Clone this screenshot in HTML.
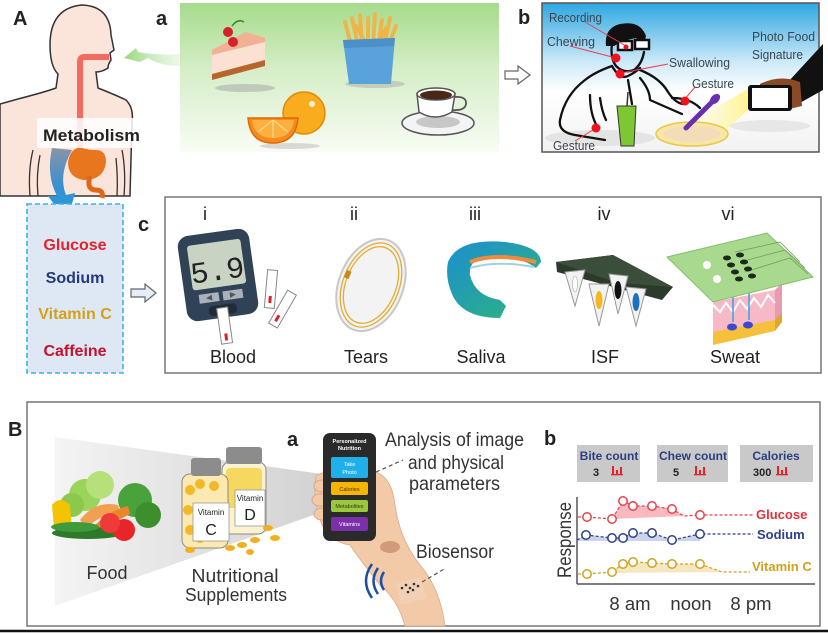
<!DOCTYPE html>
<html><head><meta charset="utf-8"><style>
html,body{margin:0;padding:0;background:#fff;}
svg{display:block;font-family:"Liberation Sans",sans-serif;}
</style></head><body>
<svg width="828" height="633" viewBox="0 0 828 633" xmlns="http://www.w3.org/2000/svg">
<defs>
<linearGradient id="gFood" x1="0" y1="0" x2="0" y2="1"><stop offset="0" stop-color="#a6db8c"/><stop offset="0.45" stop-color="#d6eec8"/><stop offset="1" stop-color="#f8fcf4"/></linearGradient>
<linearGradient id="gSky" x1="0" y1="0" x2="0" y2="1"><stop offset="0" stop-color="#2ea7e2"/><stop offset="0.4" stop-color="#cfeaf8"/><stop offset="0.6" stop-color="#ffffff"/><stop offset="1" stop-color="#f2f2f2"/></linearGradient>
<linearGradient id="gBlueArrow" x1="0" y1="0" x2="0" y2="1"><stop offset="0" stop-color="#8a94a8"/><stop offset="0.5" stop-color="#3b8fd0"/><stop offset="1" stop-color="#1aa0e2"/></linearGradient>
<linearGradient id="gGreenArrow" x1="1" y1="0" x2="0" y2="0"><stop offset="0" stop-color="#c9ebbd" stop-opacity="0.3"/><stop offset="1" stop-color="#98d67e"/></linearGradient>
<linearGradient id="gCone" x1="0" y1="0" x2="1" y2="0"><stop offset="0" stop-color="#f4f4f4"/><stop offset="1" stop-color="#d2d2d2"/></linearGradient>
<linearGradient id="gGuard" x1="0" y1="0" x2="1" y2="1"><stop offset="0" stop-color="#1b8fd0"/><stop offset="1" stop-color="#2fb57a"/></linearGradient>
<linearGradient id="gBeam" x1="1" y1="0" x2="0" y2="0"><stop offset="0" stop-color="#fff38a"/><stop offset="1" stop-color="#fffbd8" stop-opacity="0.3"/></linearGradient>
</defs>

<!-- ============ A : human ============ -->
<path d="M0 104 L18 99 Q45 92 56 88 L58 74 Q50 66 50 45 Q50 8 82 5 Q110 6 111 35 L114 50 L110 53 L111 60 Q108 64 108 68 Q102 72 96 72 L98 88 Q118 96 126 100 Q134 108 132 122 L130 196 L0 196 Z" fill="#fbe4da" stroke="#333" stroke-width="1.5"/>
<path d="M33 150 Q28 170 30 196 M40 155 Q36 175 38 196 M122 150 Q126 170 124 196 M116 158 Q118 178 117 196" fill="none" stroke="#333" stroke-width="1.3"/>
<path d="M109 57 L84 57 Q80 57 80 62 L80 150" fill="none" stroke="#f26b5e" stroke-width="6"/>
<path d="M78 148 Q70 150 68 162 Q68 178 84 180 Q104 180 106 162 Q106 150 96 150 Q88 150 82 148 Z" fill="#e8761e"/>
<path d="M90 176 Q86 190 96 190 Q104 190 102 198" fill="none" stroke="#e0661a" stroke-width="5"/>
<rect x="37" y="118" width="105" height="30" fill="#fff" fill-opacity="0.85"/>
<text x="43" y="141" font-size="16.5" font-weight="bold" fill="#222" textLength="97" lengthAdjust="spacingAndGlyphs">Metabolism</text>
<path d="M52 148 Q46 175 57 196 L48 196 L67 222 L75 193 L66 195 Q58 175 72 150 Z" fill="url(#gBlueArrow)"/>
<text x="13" y="25" font-size="20" font-weight="bold" fill="#222">A</text>

<!-- dashed metabolite box -->
<rect x="27" y="204" width="96" height="169" fill="#dde8f4" stroke="#3bb3e4" stroke-width="1.6" stroke-dasharray="5,3"/>
<text x="75" y="250" font-size="16" font-weight="bold" fill="#e8202a" text-anchor="middle">Glucose</text>
<text x="75" y="283" font-size="16" font-weight="bold" fill="#23377a" text-anchor="middle">Sodium</text>
<text x="75" y="319" font-size="16" font-weight="bold" fill="#d4a017" text-anchor="middle">Vitamin C</text>
<text x="75" y="356" font-size="16" font-weight="bold" fill="#c8102e" text-anchor="middle">Caffeine</text>
<polygon points="131,289 145,289 145,284 156,293 145,302 145,297 131,297" fill="#e4eef8" stroke="#666" stroke-width="1.2"/>
<text x="138" y="231" font-size="20" font-weight="bold" fill="#222">c</text>

<!-- ============ a : food ============ -->
<text x="156" y="25" font-size="20" font-weight="bold" fill="#222">a</text>
<rect x="180" y="3" width="319" height="149" fill="url(#gFood)"/>
<path d="M182 66 Q160 66 148 58 L140 62 L124 58 L136 48 L138 52 Q158 56 182 54 Z" fill="url(#gGreenArrow)"/>
<!-- cake -->
<ellipse cx="245" cy="88" rx="30" ry="4" fill="#9a9a9a" opacity="0.45"/>
<polygon points="212,50 246,32 265,38 265,42 212,55" fill="#f2b095"/>
<polygon points="212,55 265,42 265,60 212,74" fill="#fbe1d2"/>
<polygon points="212,74 265,60 265,66 212,80" fill="#b8652c"/>
<path d="M232 26 Q238 18 244 22" fill="none" stroke="#3a8a2a" stroke-width="1.5"/>
<circle cx="228" cy="32" r="5" fill="#d6202a"/><circle cx="233" cy="42" r="5" fill="#d6202a"/>
<!-- fries -->
<ellipse cx="375" cy="84" rx="30" ry="4" fill="#9a9a9a" opacity="0.4"/>
<g stroke="#f0b54a" stroke-width="4" stroke-linecap="round">
<line x1="345" y1="22" x2="352" y2="48"/><line x1="352" y1="18" x2="358" y2="46"/><line x1="360" y1="15" x2="362" y2="46"/><line x1="368" y1="18" x2="368" y2="46"/><line x1="375" y1="14" x2="373" y2="46"/><line x1="382" y1="20" x2="378" y2="46"/><line x1="390" y1="18" x2="384" y2="46"/><line x1="396" y1="26" x2="388" y2="46"/><line x1="356" y1="26" x2="366" y2="44"/><line x1="386" y1="28" x2="378" y2="44"/>
</g>
<polygon points="343,40 395,38 391,84 349,84" fill="#5aa3da"/>
<polygon points="343,40 395,38 394,46 344,48" fill="#4b90c8"/>
<!-- orange -->
<ellipse cx="290" cy="146" rx="30" ry="3" fill="#aaa" opacity="0.4"/>
<circle cx="304" cy="113" r="21" fill="#f9ad1e" stroke="#e28a00" stroke-width="1.5"/>
<circle cx="312" cy="104" r="3" fill="#fff" opacity="0.8"/>
<path d="M248 118 L298 118 Q296 143 273 143 Q250 143 248 118 Z" fill="#f58a1e" stroke="#e06a00" stroke-width="1.5"/>
<path d="M252 120 L294 120 Q292 138 273 138 Q254 138 252 120 Z" fill="#fbb040"/>
<g stroke="#fde0a0" stroke-width="1"><line x1="273" y1="120" x2="273" y2="138"/><line x1="273" y1="120" x2="258" y2="132"/><line x1="273" y1="120" x2="288" y2="132"/></g>
<!-- coffee -->
<ellipse cx="438" cy="123" rx="36" ry="12" fill="#f4f4f4" stroke="#555" stroke-width="1.5"/>
<ellipse cx="438" cy="122" rx="22" ry="6" fill="#999" opacity="0.5"/>
<path d="M417 94 L419 112 Q435 122 452 112 L455 94 Z" fill="#fff" stroke="#555" stroke-width="1.5"/>
<path d="M454 97 Q467 96 466 104 Q465 111 452 110" fill="none" stroke="#555" stroke-width="1.8"/>
<ellipse cx="436" cy="94" rx="19" ry="6" fill="#fff" stroke="#555" stroke-width="1.5"/>
<ellipse cx="436" cy="95" rx="16" ry="4.5" fill="#4a2716"/>

<polygon points="505,71 518,71 518,66 530,75 518,84 518,79 505,79" fill="#fff" stroke="#666" stroke-width="1.2"/>

<!-- ============ b : person ============ -->
<text x="518" y="24" font-size="20" font-weight="bold" fill="#222">b</text>
<rect x="542" y="3" width="277" height="149" fill="url(#gSky)" stroke="#555" stroke-width="1.5"/>
<ellipse cx="600" cy="138" rx="55" ry="8" fill="#ddd" opacity="0.7"/>
<ellipse cx="770" cy="126" rx="40" ry="6" fill="#e0e0e0" opacity="0.7"/>
<!-- beam -->
<polygon points="750,88 750,108 715,140 690,122" fill="url(#gBeam)"/>
<!-- plate -->
<ellipse cx="692" cy="134" rx="36" ry="12" fill="#f7e6a8" stroke="#e8c84a" stroke-width="1.5"/>
<ellipse cx="692" cy="134" rx="28" ry="8" fill="#f3dcb8"/>
<!-- body outline -->
<g fill="none" stroke="#111" stroke-width="2.3" stroke-linecap="round" stroke-linejoin="round">
<path d="M612 66 Q595 72 585 80 Q565 95 560 120 Q558 132 575 135 L605 140"/>
<path d="M640 70 Q660 78 668 92 Q676 104 684 104"/>
<path d="M612 66 Q620 80 628 76 Q636 72 640 68"/>
<path d="M590 95 Q590 115 598 128 M600 98 Q602 112 606 120 M628 80 L632 104 M640 78 Q650 90 650 100 Q668 108 682 114"/>
<path d="M612 44 Q610 58 616 66 Q624 74 634 70 Q642 64 644 52"/>
<path d="M672 98 Q690 98 700 108"/>
</g>
<path d="M606 46 Q604 28 620 24 Q640 20 646 36 L644 44 L636 38 Q624 40 614 46 Z" fill="#111"/>
<rect x="618" y="41" width="14" height="9" fill="#fff" stroke="#111" stroke-width="2.5"/>
<rect x="635" y="40" width="14" height="9" fill="#fff" stroke="#111" stroke-width="2.5"/>
<!-- cup -->
<polygon points="617,106 636,106 634,146 621,146" fill="#7dc832" stroke="#333" stroke-width="1"/>
<line x1="628" y1="92" x2="627" y2="106" stroke="#333" stroke-width="1.5"/>
<!-- spoon -->
<path d="M686 128 L712 102" stroke="#6a2fb0" stroke-width="5" stroke-linecap="round"/>
<ellipse cx="715" cy="99" rx="6" ry="4" fill="#6a2fb0" transform="rotate(-45 715 99)"/>
<!-- phone and hand -->
<polygon points="788,82 823,44 823,90 798,104" fill="#111"/>
<path d="M760 84 Q780 74 800 82 L802 106 Q780 112 758 110 Z" fill="#8a4a28"/>
<rect x="748" y="85" width="44" height="26" rx="3" fill="#111"/>
<rect x="752" y="88" width="36" height="20" fill="#fff"/>
<!-- red connectors -->
<g stroke="#e84050" stroke-width="1" fill="none">
<line x1="585" y1="22" x2="626" y2="46"/><line x1="570" y1="46" x2="616" y2="58"/><line x1="668" y1="64" x2="621" y2="73"/><line x1="695" y1="87" x2="684" y2="100"/><line x1="575" y1="141" x2="596" y2="128"/>
</g>
<g fill="#f0101e"><circle cx="626" cy="47" r="2.5"/><circle cx="616" cy="58" r="4.5"/><circle cx="620" cy="74" r="4.5"/><circle cx="685" cy="101" r="4.5"/><circle cx="596" cy="128" r="4.5"/></g>
<g font-size="12.5" fill="#3a4550">
<text x="549" y="22" textLength="53" lengthAdjust="spacingAndGlyphs">Recording</text>
<text x="547" y="46" textLength="48" lengthAdjust="spacingAndGlyphs">Chewing</text>
<text x="669" y="67" textLength="61" lengthAdjust="spacingAndGlyphs">Swallowing</text>
<text x="692" y="88" textLength="42" lengthAdjust="spacingAndGlyphs">Gesture</text>
<text x="553" y="150" textLength="42" lengthAdjust="spacingAndGlyphs">Gesture</text>
<text x="752" y="41" textLength="63" lengthAdjust="spacingAndGlyphs">Photo Food</text>
<text x="752" y="59" textLength="51" lengthAdjust="spacingAndGlyphs">Signature</text>
</g>

<!-- ============ c : biofluids ============ -->
<rect x="165" y="197" width="656" height="176" fill="#fff" stroke="#777" stroke-width="1.5"/>
<g font-size="18" fill="#222" text-anchor="middle">
<text x="205" y="220">i</text><text x="354" y="220">ii</text><text x="475" y="220">iii</text><text x="604" y="220">iv</text><text x="728" y="220">vi</text>
<text x="233" y="363">Blood</text><text x="366" y="363">Tears</text><text x="481" y="363">Saliva</text><text x="605" y="363">ISF</text><text x="735" y="363">Sweat</text>
</g>
<!-- glucometer -->
<g transform="rotate(-8 218 275)">
<rect x="182" y="232" width="72" height="86" rx="11" fill="#2f4256"/>
<rect x="191" y="242" width="54" height="45" rx="3" fill="#c9d3c4"/>
<text x="218" y="280" font-size="30" fill="#222" text-anchor="middle" font-family="Liberation Mono, monospace">5.9</text>
<rect x="196" y="292" width="20" height="9" fill="#a9b2ba"/><rect x="220" y="292" width="20" height="9" fill="#a9b2ba"/>
<polygon points="203,296.5 209,293.5 209,299.5" fill="#555"/><polygon points="233,296.5 227,293.5 227,299.5" fill="#555"/>
<rect x="204" y="305" width="28" height="10" rx="4" fill="#1e2c3a"/>
<rect x="212" y="308" width="11" height="36" fill="#fff" stroke="#888" stroke-width="1"/>
<rect x="216" y="334" width="3" height="7" fill="#e0202a"/>
</g>
<g transform="rotate(5 270 300)"><rect x="265" y="270" width="10" height="38" fill="#fff" stroke="#888"/><rect x="268.5" y="296" width="3" height="7" fill="#e0202a"/></g>
<g transform="rotate(30 282 310)"><rect x="277" y="290" width="10" height="38" fill="#fff" stroke="#888"/><rect x="280.5" y="316" width="3" height="7" fill="#e0202a"/></g>
<!-- contact lens -->
<g transform="rotate(22 371 285)">
<ellipse cx="371" cy="285" rx="32" ry="48" fill="#f3f3f3" stroke="#c8c8c8" stroke-width="2"/>
<ellipse cx="371" cy="285" rx="28" ry="44" fill="none" stroke="#e4ac30" stroke-width="1.3"/>
<ellipse cx="371" cy="285" rx="25" ry="40" fill="none" stroke="#e4ac30" stroke-width="1.3"/>
<rect x="343" y="280" width="5" height="8" fill="#c88a20"/>
</g>
<!-- mouthguard -->
<path d="M448 262 Q458 238 505 242 Q540 246 541 262 L536 268 Q520 256 492 256 Q468 258 470 275 Q475 296 500 300 L506 306 L500 318 Q462 318 452 294 Q445 278 448 262 Z" fill="url(#gGuard)"/>
<path d="M470 262 Q495 252 536 262" fill="none" stroke="#f08a3c" stroke-width="4"/>
<path d="M470 268 Q496 260 534 267" fill="none" stroke="#9fd0e8" stroke-width="2"/>
<!-- ISF -->
<polygon points="556,262 613,255 673,287 662,300 557,272" fill="#2c3a2c"/>
<polygon points="556,262 613,255 673,287 618,283 " fill="#3b4d3b"/>
<g stroke="#999" stroke-width="1">
<polygon points="565,272 585,270 575,306" fill="#f2f2f2"/>
<polygon points="589,284 609,284 599,326" fill="#f2f2f2"/>
<polygon points="609,274 628,276 618,314" fill="#f2f2f2"/>
<polygon points="626,287 646,289 636,326" fill="#f2f2f2"/>
</g>
<ellipse cx="575" cy="284" rx="2.5" ry="8" fill="#fff" stroke="#aaa" stroke-width="0.6"/>
<ellipse cx="599" cy="300" rx="3.5" ry="9" fill="#f2b81c"/>
<ellipse cx="618" cy="290" rx="3.5" ry="9" fill="#111"/>
<ellipse cx="636" cy="302" rx="3.5" ry="9" fill="#1f6fc0"/>
<!-- sweat -->
<polygon points="713,302 775,290 775,330 713,343" fill="#f7b8c8"/>
<polygon points="775,290 782,283 782,322 775,330" fill="#e79ab0"/>
<polygon points="713,332 775,320 775,331 713,345" fill="#f6c03a"/>
<polygon points="775,320 782,313 782,322 775,331" fill="#e0a82a"/>
<path d="M713 305 L720 312 L726 303 L733 312 L740 300 L747 309 L754 298 L761 307 L768 295 L775 303" fill="none" stroke="#fff" stroke-width="2"/>
<g stroke="#3aa0e0" stroke-width="1.5" fill="none"><path d="M733 296 L733 322"/><path d="M749 293 L749 320"/></g>
<ellipse cx="732" cy="327" rx="5" ry="3.5" fill="#3a4ad0"/><ellipse cx="748" cy="325" rx="5" ry="3.5" fill="#3a4ad0"/>
<polygon points="667,257 767,233 813,277 713,302" fill="#a9d98e" stroke="#85bd6a" stroke-width="1"/>
<g stroke="#6f9f5a" stroke-width="0.8" fill="none"><path d="M735 252 L780 242 L800 262"/><path d="M740 262 L785 250 L805 268"/><path d="M745 272 L790 258 L808 274"/></g>
<circle cx="707" cy="265" r="4" fill="#fff"/><circle cx="717" cy="279" r="4" fill="#fff"/>
<g fill="#1b2a1b">
<ellipse cx="727" cy="258" rx="4" ry="2.5"/><ellipse cx="740" cy="255" rx="4" ry="2.5"/><ellipse cx="731" cy="265" rx="4" ry="2.5"/><ellipse cx="744" cy="262" rx="4" ry="2.5"/><ellipse cx="735" cy="272" rx="4" ry="2.5"/><ellipse cx="748" cy="269" rx="4" ry="2.5"/><ellipse cx="739" cy="279" rx="4" ry="2.5"/><ellipse cx="752" cy="276" rx="4" ry="2.5"/>
</g>

<!-- ============ B panel ============ -->
<text x="8" y="436" font-size="20" font-weight="bold" fill="#222">B</text>
<rect x="27" y="402" width="793" height="224" fill="#fff" stroke="#777" stroke-width="1.5"/>
<line x1="0" y1="631" x2="828" y2="631" stroke="#111" stroke-width="2.5"/>
<polygon points="55,437 322,474 322,512 55,606" fill="url(#gCone)"/>
<!-- vegetables -->
<circle cx="85" cy="495" r="16" fill="#9bd45a"/><circle cx="100" cy="485" r="14" fill="#b5e07a"/><circle cx="72" cy="505" r="12" fill="#8cc84b"/>
<circle cx="135" cy="500" r="17" fill="#4aa33a"/><circle cx="148" cy="515" r="13" fill="#3d8f2e"/>
<path d="M52 505 Q60 495 70 505 L72 530 Q60 535 54 528 Z" fill="#f5c400"/>
<path d="M80 520 Q95 500 118 505 L120 512 Q100 515 86 528 Z" fill="#f2a050"/>
<path d="M92 528 Q110 510 128 506 L130 514 Q110 524 96 534 Z" fill="#e8862a"/>
<ellipse cx="88" cy="533" rx="36" ry="6" fill="#2f7a2a"/><ellipse cx="75" cy="527" rx="24" ry="5" fill="#3f9a3a"/>
<circle cx="124" cy="530" r="11" fill="#e8262a"/><circle cx="110" cy="523" r="10" fill="#f03a3a"/>
<!-- bottles -->
<rect x="222" y="462" width="44" height="72" rx="8" fill="#fbf3d0" stroke="#8a8a8a" stroke-width="1"/>
<rect x="226" y="468" width="36" height="40" rx="4" fill="#f6d860"/>
<rect x="226" y="447" width="36" height="17" rx="3" fill="#8c8c8c"/>
<rect x="235" y="490" width="30" height="36" fill="#fff" stroke="#999" stroke-width="0.8"/>
<text x="250" y="501" font-size="8" text-anchor="middle" fill="#222">Vitamin</text>
<text x="250" y="520" font-size="16" text-anchor="middle" fill="#222">D</text>
<rect x="182" y="474" width="46" height="74" rx="8" fill="#fbe9b0" stroke="#8a8a8a" stroke-width="1"/>
<g fill="#f2b828"><circle cx="190" cy="490" r="5"/><circle cx="200" cy="484" r="5"/><circle cx="214" cy="486" r="5"/><circle cx="190" cy="530" r="5"/><circle cx="200" cy="538" r="5"/><circle cx="188" cy="510" r="5"/></g>
<rect x="191" y="458" width="30" height="18" rx="3" fill="#8c8c8c"/>
<rect x="193" y="503" width="36" height="38" fill="#fff" stroke="#999" stroke-width="0.8"/>
<text x="211" y="515" font-size="8" text-anchor="middle" fill="#222">Vitamin</text>
<text x="211" y="535" font-size="16" text-anchor="middle" fill="#222">C</text>
<g fill="#f0b020"><ellipse cx="230" cy="548" rx="5" ry="3"/><ellipse cx="242" cy="545" rx="5" ry="3"/><ellipse cx="255" cy="540" rx="5" ry="3"/><ellipse cx="268" cy="528" rx="5" ry="3"/><ellipse cx="275" cy="538" rx="5" ry="3"/><ellipse cx="190" cy="550" rx="5" ry="3"/><ellipse cx="250" cy="552" rx="4" ry="3"/></g>
<g font-size="18" fill="#333" text-anchor="middle">
<text x="107" y="579">Food</text>
<text x="235" y="582" textLength="87" lengthAdjust="spacingAndGlyphs">Nutritional</text>
<text x="236" y="601" textLength="102" lengthAdjust="spacingAndGlyphs">Supplements</text>
</g>
<!-- arm + phone -->
<text x="287" y="446" font-size="20" font-weight="bold" fill="#222">a</text>
<path d="M316 476 Q330 466 376 472 Q392 478 395 505 Q400 540 420 565 Q440 588 445 626 L405 626 Q398 600 380 585 Q360 560 350 545 Q330 542 322 525 Q312 500 316 476 Z" fill="#f3caa8" stroke="#d9a888" stroke-width="0.8"/>
<ellipse cx="390" cy="547" rx="10" ry="6" fill="#d39a7a"/>
<g stroke="#d9a888" stroke-width="1" fill="#f3caa8"><ellipse cx="322" cy="486" rx="8" ry="6"/><ellipse cx="320" cy="500" rx="8" ry="6"/><ellipse cx="322" cy="514" rx="8" ry="6"/></g>
<rect x="323" y="433" width="53" height="108" rx="7" fill="#2a2a2a"/>
<text x="349.5" y="443" font-size="5.5" font-weight="bold" fill="#fff" text-anchor="middle">Personalized</text>
<text x="349.5" y="450" font-size="5.5" font-weight="bold" fill="#fff" text-anchor="middle">Nutrition</text>
<rect x="331" y="457" width="37" height="21" rx="2" fill="#1fb0ea"/>
<text x="349.5" y="466" font-size="5.5" fill="#fff" text-anchor="middle">Take</text>
<text x="349.5" y="474" font-size="5.5" fill="#fff" text-anchor="middle">Photo</text>
<rect x="331" y="482" width="37" height="13" rx="2" fill="#f7b500"/>
<text x="349.5" y="491" font-size="5.5" fill="#333" text-anchor="middle">Calories</text>
<rect x="331" y="500" width="37" height="12" rx="2" fill="#9ac93a"/>
<text x="349.5" y="508" font-size="5.5" fill="#333" text-anchor="middle">Metabolites</text>
<rect x="331" y="517" width="37" height="14" rx="2" fill="#7b2fa8"/>
<text x="349.5" y="526" font-size="5.5" fill="#fff" text-anchor="middle">Vitamins</text>
<g fill="none" stroke="#1d4fa0" stroke-width="2.5"><path d="M384 572 Q378 581 384 590"/><path d="M378 568 Q369 581 378 594"/><path d="M372 564 Q360 581 372 598"/></g>
<rect x="398" y="580" width="26" height="22" fill="#efd3bb" opacity="0.7" transform="rotate(-15 411 591)"/>
<g fill="#333"><circle cx="402" cy="588" r="1.3"/><circle cx="406" cy="585" r="1.3"/><circle cx="410" cy="588" r="1.3"/><circle cx="414" cy="584" r="1.3"/><circle cx="408" cy="592" r="1.3"/><circle cx="413" cy="590" r="1.3"/><circle cx="418" cy="586" r="1.3"/></g>
<g stroke="#555" stroke-width="1.2" stroke-dasharray="4,3" fill="none"><line x1="376" y1="472" x2="403" y2="460"/><line x1="422" y1="582" x2="446" y2="568"/></g>
<g font-size="19.5" fill="#333">
<text x="385" y="446" textLength="139" lengthAdjust="spacingAndGlyphs">Analysis of image</text>
<text x="408" y="469" textLength="96" lengthAdjust="spacingAndGlyphs">and physical</text>
<text x="409" y="490" textLength="91" lengthAdjust="spacingAndGlyphs">parameters</text>
<text x="416" y="558" textLength="78" lengthAdjust="spacingAndGlyphs">Biosensor</text>
</g>

<!-- chart b -->
<text x="544" y="445" font-size="20" font-weight="bold" fill="#222">b</text>
<rect x="577" y="445" width="63" height="37" fill="#c9c9c9"/>
<rect x="657" y="445" width="71" height="37" fill="#c9c9c9"/>
<rect x="740" y="445" width="73" height="37" fill="#c9c9c9"/>
<g font-size="12" font-weight="bold" fill="#2a3f80" text-anchor="middle">
<text x="609" y="460">Bite count</text><text x="693" y="460">Chew count</text><text x="776" y="460">Calories</text>
</g>
<g font-size="11" font-weight="bold" fill="#222">
<text x="593" y="476">3</text><text x="673" y="476">5</text><text x="753" y="476">300</text>
</g>
<g fill="#e8202a">
<rect x="612" y="466" width="2" height="9"/><rect x="616" y="470" width="2" height="5"/><rect x="620" y="467" width="2" height="8"/><rect x="611" y="474" width="12" height="1.3"/>
<rect x="695" y="466" width="2" height="9"/><rect x="699" y="470" width="2" height="5"/><rect x="703" y="467" width="2" height="8"/><rect x="694" y="474" width="12" height="1.3"/>
<rect x="777" y="466" width="2" height="9"/><rect x="781" y="470" width="2" height="5"/><rect x="785" y="467" width="2" height="8"/><rect x="776" y="474" width="12" height="1.3"/>
</g>
<line x1="577" y1="497" x2="577" y2="584" stroke="#555" stroke-width="1.5"/>
<line x1="577" y1="584" x2="815" y2="584" stroke="#555" stroke-width="1.5"/>
<text transform="translate(571 540) rotate(-90)" font-size="19" fill="#333" text-anchor="middle" textLength="76" lengthAdjust="spacingAndGlyphs">Response</text>
<!-- fills -->
<polygon points="612,519 623,501 633,506 652,506 672,509 684,516 612,519" fill="#f58a94" opacity="0.6"/>
<polygon points="577,540 586,535 612,538 623,538 633,533 652,533 672,540 700,534 700,541 577,541" fill="#8aa0d0" opacity="0.45"/>
<polygon points="612,572 623,564 633,562 652,563 672,564 700,564 722,572 612,573" fill="#ecd38a" opacity="0.55"/>
<g fill="none" stroke-width="1.2" stroke-dasharray="3,2">
<polyline points="578,517 587,517 612,519 623,501 633,506 652,506 672,509 684,516 700,515 753,515" stroke="#e8404a"/>
<polyline points="577,540 586,535 612,538 623,538 633,533 652,533 672,540 700,534 753,534" stroke="#2b3f8c"/>
<polyline points="578,574 587,574 612,572 623,564 633,562 652,563 672,564 700,564 722,572 750,572" stroke="#d4a020"/>
</g>
<g fill="#fff" stroke-width="1.5">
<g stroke="#e8404a"><circle cx="587" cy="517" r="4.2"/><circle cx="612" cy="519" r="4.2"/><circle cx="623" cy="501" r="4.2"/><circle cx="633" cy="506" r="4.2"/><circle cx="652" cy="506" r="4.2"/><circle cx="672" cy="509" r="4.2"/><circle cx="700" cy="515" r="4.2"/></g>
<g stroke="#2b3f8c"><circle cx="586" cy="535" r="4.2"/><circle cx="612" cy="538" r="4.2"/><circle cx="623" cy="538" r="4.2"/><circle cx="633" cy="533" r="4.2"/><circle cx="652" cy="533" r="4.2"/><circle cx="672" cy="540" r="4.2"/><circle cx="700" cy="534" r="4.2"/></g>
<g stroke="#d4a020"><circle cx="587" cy="574" r="4.2"/><circle cx="612" cy="572" r="4.2"/><circle cx="623" cy="564" r="4.2"/><circle cx="633" cy="562" r="4.2"/><circle cx="652" cy="563" r="4.2"/><circle cx="672" cy="564" r="4.2"/><circle cx="700" cy="564" r="4.2"/></g>
</g>
<g font-size="13" font-weight="bold">
<text x="756" y="519" fill="#e8303a">Glucose</text>
<text x="757" y="539" fill="#2b3f8c">Sodium</text>
<text x="752" y="571" fill="#d4a020">Vitamin C</text>
</g>
<g font-size="18.5" fill="#333" text-anchor="middle">
<text x="630" y="610">8 am</text><text x="691" y="610">noon</text><text x="751" y="610">8 pm</text>
</g>
</svg>
</body></html>
